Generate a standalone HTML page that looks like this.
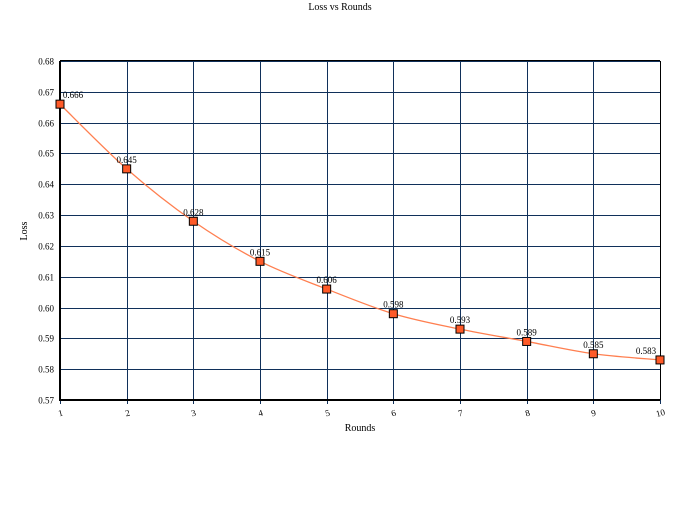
<!DOCTYPE html>
<html><head><meta charset="utf-8"><style>
body{margin:0;background:#fff}
svg text{font-family:"Liberation Serif",serif;fill:#000}
</style></head><body>
<svg id="chart" width="680" height="500">
<text x="340" y="10" font-size="10" text-anchor="middle">Loss vs Rounds</text>
<g id="grid"></g>
<g id="axes"></g>
<g id="series"></g>
<text x="360" y="431" font-size="10" text-anchor="middle">Rounds</text>
<text transform="translate(27,231) rotate(-90)" font-size="10" text-anchor="middle">Loss</text>
</svg>
<script>
const rounds=[1,2,3,4,5,6,7,8,9,10];
const losses=[0.666,0.645,0.628,0.615,0.606,0.598,0.593,0.589,0.585,0.583];
const yTicks=[0.57,0.58,0.59,0.60,0.61,0.62,0.63,0.64,0.65,0.66,0.67,0.68];
const L=60,R=660,T=61,B=400;
const xs=v=>L+(v-1)/9*(R-L);
const ys=v=>B-(v-0.57)/0.11*(B-T);
const NS="http://www.w3.org/2000/svg";
function mk(tag,at,parent){const e=document.createElementNS(NS,tag);for(const k in at)e.setAttribute(k,at[k]);parent.appendChild(e);return e;}
const grid=document.getElementById('grid'),axes=document.getElementById('axes'),ser=document.getElementById('series');
yTicks.forEach(t=>{const y=Math.round(ys(t))+0.5;
 const g=mk('line',{x1:L,x2:R,y1:y,y2:y,stroke:'#10305a','stroke-width':1},grid);
 
 
 const tx=mk('text',{x:L-6,y:y+3,'font-size':9,'text-anchor':'end'},axes);tx.textContent=t.toFixed(2);
 
 
});
rounds.forEach(r=>{const x=Math.round(xs(r))+0.5;
 const g=mk('line',{x1:x,x2:x,y1:T,y2:B+4,stroke:'#10305a','stroke-width':1},grid);
 
 
 const tx=mk('text',{x:x,y:B+16,'font-size':9,'text-anchor':'middle',transform:`rotate(-15 ${x} ${B+13})`},axes);tx.textContent=r;
 
 
});
let a=mk('line',{x1:L,x2:L,y1:T,y2:B+1,stroke:'#000','stroke-width':2},axes);


a=mk('line',{x1:L-1,x2:R,y1:B,y2:B,stroke:'#000','stroke-width':2},axes);


a=mk('line',{x1:L,x2:R,y1:T-0.5,y2:T-0.5,stroke:'#000','stroke-width':1},axes);


a=mk('line',{x1:R+0.5,x2:R+0.5,y1:T,y2:B,stroke:'#000','stroke-width':1},axes);


const P=rounds.map((r,i)=>[xs(r),ys(losses[i])]);
let d=`M${P[0][0]},${P[0][1]}`;
for(let i=0;i<P.length-1;i++){const p0=P[Math.max(0,i-1)],p1=P[i],p2=P[i+1],p3=P[Math.min(P.length-1,i+2)];
 const c1=[p1[0]+(p2[0]-p0[0])/6,p1[1]+(p2[1]-p0[1])/6],c2=[p2[0]-(p3[0]-p1[0])/6,p2[1]-(p3[1]-p1[1])/6];
 d+=` C${c1[0]},${c1[1]} ${c2[0]},${c2[1]} ${p2[0]},${p2[1]}`;}
const line=mk('path',{d:d,fill:'none',stroke:'#ff7f50','stroke-width':1.3},ser);


P.forEach((p,i)=>{
 const m=mk('rect',{x:p[0]-4,y:p[1]-4,width:8,height:8,fill:'#ff5a28',stroke:'#000','stroke-width':1},ser);
 
 
 const tx=mk('text',{x:p[0]+(i===0?13:(i===P.length-1?-14:0)),y:p[1]-6,'font-size':9,'text-anchor':'middle'},ser);
 tx.textContent=losses[i].toFixed(3);
 
 
});
</script>
</body></html>
